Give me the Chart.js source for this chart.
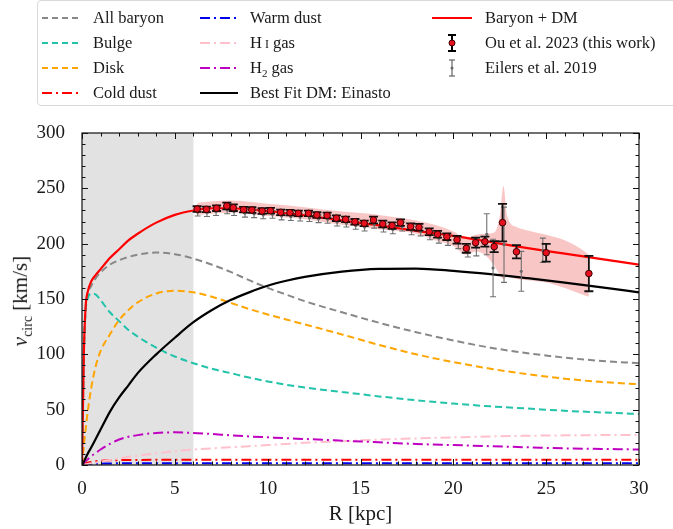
<!DOCTYPE html>
<html>
<head>
<meta charset="utf-8">
<script src="https://cdn.jsdelivr.net/npm/chart.js@4.4.1/dist/chart.umd.min.js"></script>
<style>
  body { margin: 0; background: #fff; }
  #wrap { position: relative; width: 673px; height: 529px; overflow: hidden;
    font-family: "Liberation Serif", "DejaVu Serif", serif; color: #1a1a1a; }
  #chart { position: absolute; left: 0; top: 0; }
  #legend { position: absolute; left: 37px; top: 0; width: 645px; height: 104px;
    border: 1px solid #d9d9d9; border-radius: 4px; }
  .item { position: absolute; height: 20px; line-height: 20px; font-size: 16.5px; white-space: nowrap; }
  .item svg { position: absolute; left: 0; top: 0; }
  .item span { position: absolute; top: 0; }
  #ylabel { position: absolute; left: -78px; top: 287px; width: 200px; text-align: center;
    font-size: 21px; transform: rotate(-90deg); white-space: nowrap; }
  #ylabel sub { font-size: 14px; }
</style>
</head>
<body>
<div id="wrap">
  <canvas id="chart" width="673" height="529"></canvas>

  <!-- legend, three columns like the figure -->
  <div id="legend"></div>
  <div class="item" style="left:42px;top:8px"><svg width="40" height="20"><line x1="0" y1="10" x2="38" y2="10" stroke="#888" stroke-width="2" stroke-dasharray="6,4"/></svg><span style="left:51px">All baryon</span></div>
  <div class="item" style="left:42px;top:33px"><svg width="40" height="20"><line x1="0" y1="10" x2="38" y2="10" stroke="#22c3aa" stroke-width="2" stroke-dasharray="6,4"/></svg><span style="left:51px">Bulge</span></div>
  <div class="item" style="left:42px;top:58px"><svg width="40" height="20"><line x1="0" y1="10" x2="38" y2="10" stroke="#ffa500" stroke-width="2" stroke-dasharray="6,4"/></svg><span style="left:51px">Disk</span></div>
  <div class="item" style="left:42px;top:83px"><svg width="40" height="20"><line x1="0" y1="10" x2="38" y2="10" stroke="#ff0000" stroke-width="2" stroke-dasharray="10,4,2,4"/></svg><span style="left:51px">Cold dust</span></div>

  <div class="item" style="left:200px;top:8px"><svg width="40" height="20"><line x1="0" y1="10" x2="38" y2="10" stroke="#0000ee" stroke-width="2" stroke-dasharray="10,4,2,4"/></svg><span style="left:50px">Warm dust</span></div>
  <div class="item" style="left:200px;top:33px"><svg width="40" height="20"><line x1="0" y1="10" x2="38" y2="10" stroke="#ffc0cb" stroke-width="2" stroke-dasharray="10,4,2,4"/></svg><span style="left:50px">H<span style="position:static;font-size:12px;margin-left:3px">I</span> gas</span></div>
  <div class="item" style="left:200px;top:58px"><svg width="40" height="20"><line x1="0" y1="10" x2="38" y2="10" stroke="#c000c0" stroke-width="2" stroke-dasharray="10,4,2,4"/></svg><span style="left:50px">H<sub style="font-size:11px">2</sub> gas</span></div>
  <div class="item" style="left:200px;top:83px"><svg width="40" height="20"><line x1="0" y1="10" x2="38" y2="10" stroke="#000" stroke-width="2.2"/></svg><span style="left:50px">Best Fit DM: Einasto</span></div>

  <div class="item" style="left:432px;top:8px"><svg width="42" height="20"><line x1="0" y1="10" x2="40" y2="10" stroke="#ff0000" stroke-width="2.2"/></svg><span style="left:53px">Baryon + DM</span></div>
  <div class="item" style="left:432px;top:33px"><svg width="42" height="20"><line x1="20" y1="2" x2="20" y2="18" stroke="#000" stroke-width="2"/><line x1="16" y1="2" x2="24" y2="2" stroke="#000" stroke-width="2"/><line x1="16" y1="18" x2="24" y2="18" stroke="#000" stroke-width="2"/><circle cx="20" cy="10" r="3" fill="#e8101e" stroke="#400" stroke-width="1"/></svg><span style="left:53px">Ou et al. 2023 (this work)</span></div>
  <div class="item" style="left:432px;top:58px"><svg width="42" height="20"><line x1="20" y1="2" x2="20" y2="18" stroke="#666" stroke-width="1.2"/><line x1="17" y1="2" x2="23" y2="2" stroke="#666" stroke-width="1.2"/><line x1="17" y1="18" x2="23" y2="18" stroke="#666" stroke-width="1.2"/><circle cx="20" cy="10" r="1.5" fill="#666"/></svg><span style="left:53px">Eilers et al. 2019</span></div>

  <div id="ylabel"><i>v</i><sub>circ</sub> [km/s]</div>
</div>

<script>
// radius grid for the model curves (kpc)
const rGrid = [0, 0.1, 0.2, 0.3, 0.5, 0.75, 1, 1.5, 2, 2.5, 3, 4, 5, 6, 7, 8, 9, 10, 11, 12, 14, 16, 18, 20, 22, 24, 26, 28, 30]

// model components (km/s)
const allBaryon = [0, 101, 143, 154, 162, 169, 174, 181, 185, 188, 190, 192, 190.5, 186.5, 181, 174.5, 167, 160, 154, 148, 138, 128.5, 120, 112.5, 106, 101, 97, 94, 92]
const bulge = [0, 100, 140, 150, 155, 154, 149, 138, 130, 122, 116, 106, 98, 92, 87, 83, 79, 75.5, 72.5, 70, 66, 62, 58.5, 55.5, 53, 51, 49, 47.5, 46]
const disk = [0, 18, 33, 47, 70, 90, 103, 118, 131, 140, 147, 155, 157.5, 156, 152, 146.5, 141, 136, 131.5, 127, 118, 108.5, 100, 93, 87, 82, 78, 75, 73]
const coldDust = [0, 0.8, 1.5, 2, 2.8, 3.4, 3.8, 4.2, 4.4, 4.5, 4.6, 4.7, 4.7, 4.7, 4.7, 4.7, 4.7, 4.7, 4.7, 4.7, 4.7, 4.7, 4.7, 4.7, 4.7, 4.7, 4.7, 4.7, 4.7]
const warmDust = [0, 0.3, 0.6, 0.8, 1, 1.2, 1.3, 1.4, 1.5, 1.5, 1.5, 1.5, 1.5, 1.5, 1.5, 1.5, 1.5, 1.5, 1.5, 1.5, 1.5, 1.5, 1.5, 1.5, 1.5, 1.5, 1.5, 1.5, 1.5]
const hiGas = [0, 0.3, 0.6, 1, 1.5, 2.2, 3, 4.5, 6, 7.3, 8.5, 10.5, 12.5, 14, 15, 16, 17, 18, 19, 20, 21.5, 23, 24, 25, 25.8, 26.4, 26.8, 27, 27]
const h2Gas = [0, 1.8, 3.5, 5, 8, 11, 14, 19, 23, 25.5, 27, 29, 29.5, 29, 28, 26.8, 25.8, 25, 24.2, 23.5, 22, 20.5, 19, 18, 17, 16, 15, 14.5, 14]
const darkMatter = [0, 3, 6.5, 10, 16, 24, 32, 48, 61, 72, 83, 100, 115, 129, 140, 149, 156, 162, 166.5, 170, 174.8, 177.2, 177.5, 175.5, 172.5, 168.8, 164.8, 160.5, 156]
const baryonDM = [0, 102, 144, 156, 166, 172, 177, 187, 195, 203, 209, 219, 226, 230, 232, 232, 231, 229.5, 227.5, 225.5, 221, 216.5, 211.5, 207, 201.5, 196, 191, 186, 181]

// Ou et al. 2023 rotation curve
const ouR = [6.2, 6.7, 7.25, 7.8, 8.15, 8.7, 9.15, 9.7, 10.15, 10.7, 11.2, 11.65, 12.2, 12.65, 13.2, 13.7, 14.2, 14.7, 15.2, 15.7, 16.2, 16.7, 17.15, 17.7, 18.15, 18.7, 19.15, 19.65, 20.2, 20.7, 21.2, 21.7, 22.2, 22.65, 23.4, 25.0, 27.3]
const ouV = [231.3, 231, 232, 234, 232.5, 230.7, 230.4, 229.5, 229.8, 228.3, 228, 227.4, 227.4, 225.9, 225.5, 223, 222, 219.8, 218.4, 221.4, 217.8, 216.3, 219, 215.4, 214.8, 210.8, 208.5, 206.3, 203.5, 195.8, 200.9, 201.8, 197.3, 219, 192.7, 191.8, 173]
const ouErr = [2.5, 2.5, 2.5, 3, 3, 2.5, 2.5, 2.5, 2.5, 2.5, 2.5, 2.5, 2.5, 2.5, 2.5, 2.5, 2.5, 2.5, 2.5, 3, 3, 3, 3, 3, 3, 3, 3, 3, 3.5, 4, 4.5, 4.5, 5, 17, 6, 8, 16]

// Eilers et al. 2019 rotation curve
const eilR = [6.23, 6.73, 7.22, 7.82, 8.19, 8.78, 9.27, 9.76, 10.26, 10.75, 11.25, 11.75, 12.25, 12.74, 13.23, 13.74, 14.24, 14.74, 15.22, 15.74, 16.24, 16.74, 17.25, 17.75, 18.24, 18.74, 19.22, 19.71, 20.27, 20.78, 21.24, 21.8, 22.14, 22.73, 23.66, 24.82]
const eilV = [228.5, 228, 229, 230.5, 229, 227.5, 227, 226, 226.5, 225, 224.5, 224, 223.5, 222.5, 222, 219.5, 218.5, 216.5, 215, 217.5, 214.5, 213, 215.5, 212, 211, 207.5, 205, 203, 200.5, 193, 197, 208.5, 178, 199, 175, 194]
const eilErr = [3.5, 3.5, 3.5, 3.5, 3.5, 3.5, 3.5, 3.5, 3.5, 3.5, 3.5, 3.5, 3.5, 3.5, 3.5, 3.5, 3.5, 3.5, 3.5, 3.5, 4, 4, 4, 4, 4, 4, 4.5, 4.5, 5, 5, 8, 18.5, 26, 34, 18, 11]

// uncertainty band around the fit
const bandR = [6.2, 8, 10, 12, 14, 16, 18, 19, 20, 20.7, 21.2, 21.7, 22.2, 22.5, 22.7, 22.9, 23.4, 24, 25, 26, 26.8, 27.3]
const bandHigh = [237, 239, 236, 233, 229, 226, 221, 217, 211, 205, 208, 209, 210, 225, 252, 225, 215, 212, 208, 203, 196, 190]
const bandLow = [226, 228, 225, 222, 217, 213, 209, 203, 198, 190, 193, 190, 180, 172, 168, 170, 168, 167, 165, 160, 155, 152]

// inner region that is shaded grey
const shadeFrom = 0
const shadeTo = 6

const fontFamily = '"Liberation Serif", "DejaVu Serif", serif'

// turn two arrays into scatter points
function pts(xs, ys) {
  return xs.map((x, i) => ({ x: x, y: ys[i] }))
}

function curve(vals, color, dash, width, order) {
  return {
    data: pts(rGrid, vals),
    showLine: true,
    borderColor: color,
    borderDash: dash,
    borderWidth: width,
    pointRadius: 0,
    fill: false,
    cubicInterpolationMode: 'monotone',
    order: order,
  }
}

const dashed = [7, 4]
const dashDot = [10, 4, 2, 4]

// shaded region, error bars and the inward ticks on all sides
const decorations = {
  id: 'decorations',
  beforeDatasetsDraw(chart) {
    const { ctx, chartArea: a, scales: { x } } = chart
    const x0 = x.getPixelForValue(shadeFrom)
    const x1 = x.getPixelForValue(shadeTo)
    ctx.save()
    ctx.fillStyle = 'rgba(190,190,190,0.45)'
    ctx.fillRect(x0, a.top, x1 - x0, a.bottom - a.top)
    ctx.restore()
  },
  beforeDatasetDraw(chart, args) {
    const ds = chart.data.datasets[args.index]
    if (!ds.errors) return
    const { ctx, scales: { x, y } } = chart
    ctx.save()
    ctx.strokeStyle = ds.barColor
    ctx.lineWidth = ds.barWidth
    ds.data.forEach((p, i) => {
      const px = x.getPixelForValue(p.x)
      const top = y.getPixelForValue(p.y + ds.errors[i])
      const bot = y.getPixelForValue(p.y - ds.errors[i])
      ctx.beginPath()
      ctx.moveTo(px, top)
      ctx.lineTo(px, bot)
      ctx.moveTo(px - ds.capHalf, top)
      ctx.lineTo(px + ds.capHalf, top)
      ctx.moveTo(px - ds.capHalf, bot)
      ctx.lineTo(px + ds.capHalf, bot)
      ctx.stroke()
    })
    ctx.restore()
  },
  afterDatasetsDraw(chart) {
    const { ctx, chartArea: a, scales: { x, y } } = chart
    ctx.save()
    ctx.strokeStyle = '#111'
    ctx.lineWidth = 1.2
    ctx.strokeRect(a.left, a.top, a.right - a.left, a.bottom - a.top)
    ctx.lineWidth = 1
    ctx.beginPath()
    for (let v = 0; v <= 30; v += 1) {
      const len = v % 5 === 0 ? 6 : 3.5
      const px = Math.round(x.getPixelForValue(v)) + 0.5
      ctx.moveTo(px, a.bottom); ctx.lineTo(px, a.bottom - len)
      ctx.moveTo(px, a.top); ctx.lineTo(px, a.top + len)
    }
    for (let v = 0; v <= 300; v += 10) {
      const len = v % 50 === 0 ? 6 : 3.5
      const py = Math.round(y.getPixelForValue(v)) + 0.5
      ctx.moveTo(a.left, py); ctx.lineTo(a.left + len, py)
      ctx.moveTo(a.right, py); ctx.lineTo(a.right - len, py)
    }
    ctx.stroke()
    ctx.restore()
  },
}

const ctx = document.getElementById('chart').getContext('2d')
new Chart(ctx, {
  type: 'scatter',
  data: {
    datasets: [
      // band (lower edge, then upper edge filled down to it)
      { data: pts(bandR, bandLow), showLine: true, borderWidth: 0, pointRadius: 0, fill: false, cubicInterpolationMode: 'monotone', order: 20 },
      { data: pts(bandR, bandHigh), showLine: true, borderWidth: 0, pointRadius: 0, fill: '-1', backgroundColor: 'rgba(240,120,120,0.42)', cubicInterpolationMode: 'monotone', order: 20 },
      curve(allBaryon, '#888888', dashed, 2, 12),
      curve(bulge, '#22c3aa', dashed, 2, 11),
      curve(disk, '#ffa500', dashed, 2, 10),
      curve(coldDust, '#ff0000', dashDot, 2, 8),
      curve(warmDust, '#0000ee', dashDot, 2, 9),
      curve(hiGas, '#ffc0cb', dashDot, 2, 7),
      curve(h2Gas, '#c000c0', dashDot, 2, 6),
      curve(darkMatter, '#000000', [], 2.2, 4),
      curve(baryonDM, '#ff0000', [], 2.2, 3),
      {
        data: pts(eilR, eilV),
        pointRadius: 1.6,
        pointBackgroundColor: '#6a6a6a',
        pointBorderWidth: 0,
        errors: eilErr, barColor: '#707070', barWidth: 1.1, capHalf: 3,
        order: 1,
      },
      {
        data: pts(ouR, ouV),
        pointRadius: 3.3,
        pointBackgroundColor: '#e8101e',
        pointBorderColor: '#3a0000',
        pointBorderWidth: 1,
        errors: ouErr, barColor: '#111', barWidth: 1.8, capHalf: 4.5,
        order: 0,
      },
    ],
  },
  options: {
    responsive: false,
    animation: false,
    layout: { padding: { top: 133, right: 34, left: 0, bottom: 0 } },
    plugins: { legend: { display: false }, tooltip: { enabled: false } },
    scales: {
      x: {
        type: 'linear', min: 0, max: 30,
        grid: { display: false }, border: { display: false },
        ticks: { stepSize: 5, padding: 5, color: '#1a1a1a', font: { family: fontFamily, size: 19 } },
        title: { display: true, text: 'R [kpc]', color: '#1a1a1a', font: { family: fontFamily, size: 21 }, padding: { top: 0, bottom: 2 } },
        afterFit: (scale) => { scale.height = 64 },
      },
      y: {
        min: 0, max: 300,
        grid: { display: false }, border: { display: false },
        ticks: { stepSize: 50, padding: 9, color: '#1a1a1a', font: { family: fontFamily, size: 19 } },
        afterFit: (scale) => { scale.width = 82 },
      },
    },
  },
  plugins: [decorations],
})
</script>
</body>
</html>
